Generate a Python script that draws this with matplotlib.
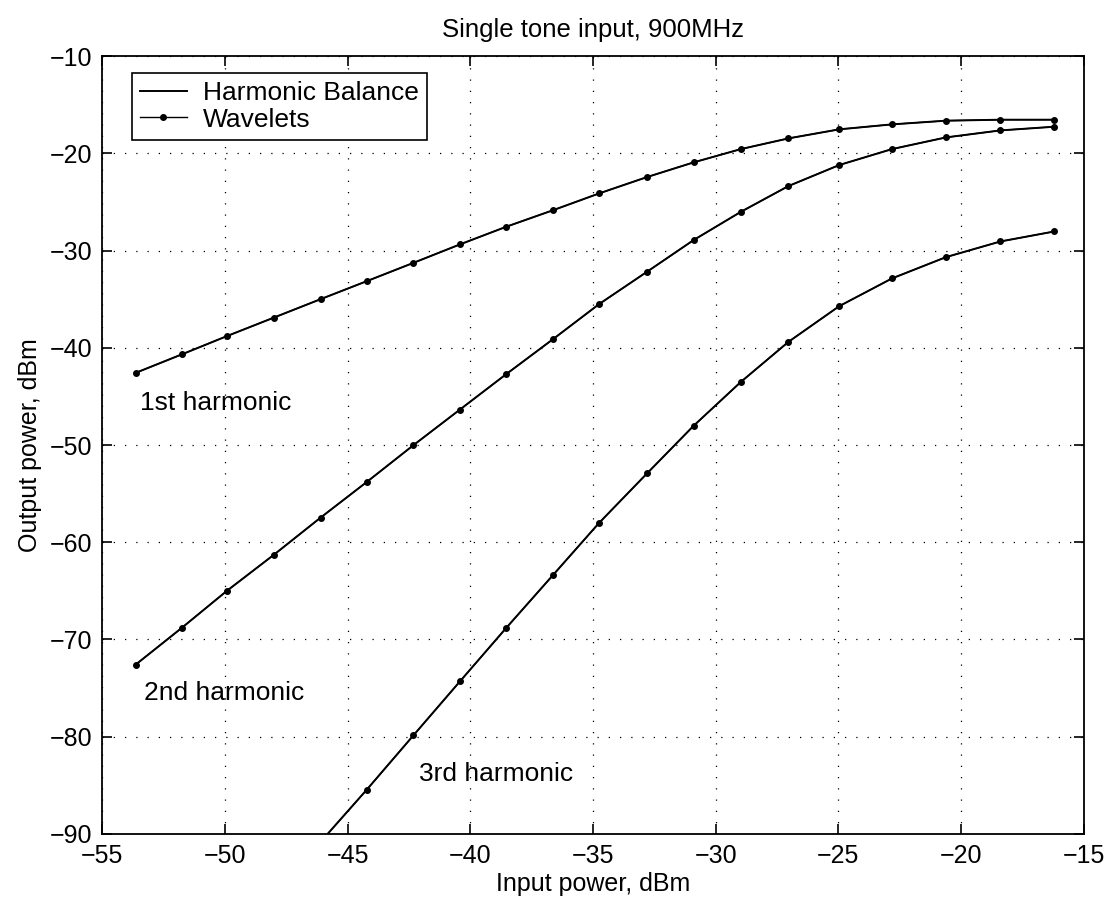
import matplotlib.pyplot as plt
import numpy as np

# input power, dBm
INPUT_POWER = [-53.64, -51.77, -49.93, -48.00, -46.10, -44.22, -42.32, -40.42,
               -38.54, -36.61, -34.75, -32.80, -30.90, -28.97, -27.03, -24.96,
               -22.81, -20.61, -18.39, -16.19]

FIRST = [-42.58, -40.69, -38.81, -36.89, -35.00, -33.15, -31.27, -29.37,
         -27.56, -25.84, -24.13, -22.45, -20.94, -19.57, -18.47, -17.54,
         -17.03, -16.65, -16.55, -16.55]

SECOND = [-72.58, -68.82, -65.01, -61.27, -57.46, -53.80, -50.02, -46.35,
          -42.72, -39.08, -35.51, -32.19, -28.93, -26.02, -23.37, -21.21,
          -19.57, -18.37, -17.65, -17.27]

# points below -90 are outside the plot, only the one next to the edge is kept
THIRD = [np.nan, np.nan, np.nan, np.nan, -90.8, -85.44, -79.86, -74.30,
         -68.82, -63.32, -58.01, -52.93, -48.03, -43.51, -39.39, -35.72,
         -32.87, -30.68, -29.07, -28.04]

X_TICKS = [-55, -50, -45, -40, -35, -30, -25, -20, -15]
Y_TICKS = [-90, -80, -70, -60, -50, -40, -30, -20, -10]


def main() -> None:
    plt.rcParams["font.family"] = ["Liberation Sans", "DejaVu Sans"]
    plt.rcParams["axes.unicode_minus"] = True

    fig = plt.figure(figsize=(11.09, 9.02), dpi=100)
    ax = fig.add_axes([0.0923, 0.0754, 0.8848, 0.8625])

    x = np.array(INPUT_POWER)
    for i, series in enumerate([FIRST, SECOND, THIRD]):
        y = np.array(series)
        ax.plot(x, y, color="black", linewidth=1.4,
                label="Harmonic Balance" if i == 0 else None)
        ax.plot(x, y, color="black", linewidth=1.0, marker="o", markersize=4,
                label="Wavelets" if i == 0 else None)

    ax.text(-53.45, -45.7, "1st harmonic", fontsize=19, va="center")
    ax.text(-53.3, -75.5, "2nd harmonic", fontsize=19, va="center")
    ax.text(-42.1, -83.8, "3rd harmonic", fontsize=19, va="center")

    ax.set_xlim(-55, -15)
    ax.set_ylim(-90, -10)
    ax.set_xticks(X_TICKS)
    ax.set_yticks(Y_TICKS)
    ax.tick_params(direction="in", top=True, right=True, labelsize=18,
                   length=7, width=1.2, pad=7)
    ax.grid(True, color="black", linestyle=(0, (1, 8)), linewidth=0.9)
    for spine in ax.spines.values():
        spine.set_linewidth(1.3)

    ax.set_xlabel("Input power, dBm", fontsize=18, labelpad=3)
    ax.set_ylabel("Output power, dBm", fontsize=18, labelpad=6)
    ax.set_title("Single tone input, 900MHz", fontsize=18.5, pad=14)

    leg = ax.legend(loc="upper left", bbox_to_anchor=(0.030, 0.978),
                    borderaxespad=0, fontsize=19, fancybox=False, framealpha=1,
                    edgecolor="black", handlelength=1.8, handletextpad=0.6,
                    borderpad=0.3, labelspacing=0.1)
    leg.get_frame().set_linewidth(1.2)

    fig.savefig("out.png", dpi=100)
    plt.close(fig)


if __name__ == "__main__":
    main()
